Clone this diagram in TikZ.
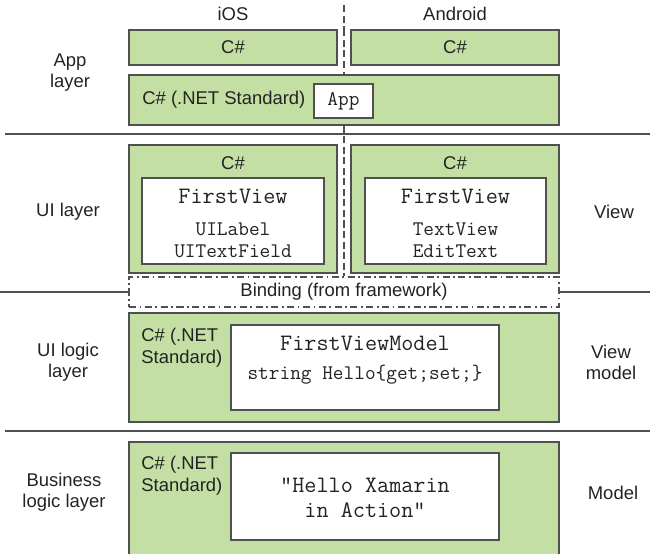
\documentclass[tikz,border=0pt]{standalone}
\usepackage{fontspec}
\setmainfont{Liberation Sans}
\usetikzlibrary{positioning}
\definecolor{layergreen}{RGB}{196, 223, 164}
\definecolor{edgegrey}{RGB}{80, 80, 80}
\definecolor{textgrey}{RGB}{35, 35, 35}

\begin{document}
\begin{tikzpicture}[
    x=0.02cm, y=-0.02cm,
    font=\fontsize{10.5}{12.5}\selectfont,
    text=textgrey,
    % Box styles
    greenbox/.style={
        draw=edgegrey,
        fill=layergreen,
        line width=0.7pt,
        inner sep=0pt
    },
    whitebox/.style={
        draw=edgegrey,
        fill=white,
        line width=0.7pt,
        inner sep=0pt
    },
    bindingbox/.style={
        draw=edgegrey,
        fill=white,
        line width=0.7pt,
        dash pattern=on 4pt off 2pt on 1pt off 2pt,
        inner sep=0pt
    },
    layerlabel/.style={
        align=center,
        font=\fontsize{10.5}{12}\selectfont
    },
    codetitle/.style={
        font=\ttfamily\fontsize{13.4}{15}\selectfont
    },
    codebody/.style={
        align=center,
        font=\ttfamily\fontsize{11.8}{12.6}\selectfont
    },
    separator/.style={
        draw=edgegrey,
        line width=0.9pt
    },
    platformsplit/.style={
        draw=edgegrey,
        line width=0.7pt,
        dash pattern=on 4pt off 2pt
    }
]
    \useasboundingbox (0,0) rectangle (650,554);

    % =========================================================================
    % 1. PLATFORM HEADINGS, SPLIT AND LAYER SEPARATORS
    % =========================================================================
    \node (head_ios) at (233,14) {iOS};
    \node (head_android) at (455,14) {Android};

    \coordinate (split_top) at (344,5);
    \coordinate (sep1_left) at (5,134);
    \coordinate (sep1_right) at (650,134);
    \coordinate (sep2_left) at (5,431);
    \coordinate (sep2_right) at (650,431);
    \coordinate (bind_left) at (0,292);
    \coordinate (bind_right) at (650,292);

    \draw[separator] (sep1_left) -- (sep1_right);
    \draw[separator] (sep2_left) -- (sep2_right);

    % =========================================================================
    % 2. APP LAYER
    % =========================================================================
    \node[layerlabel] (lbl_app) at (70,73) {App\\layer};

    \node[greenbox, minimum width=4.16cm, minimum height=0.70cm] (ios_app) at (233,47.5) {};
    \node (ios_app_cs) at (ios_app) {C\#};
    \node[greenbox, minimum width=4.16cm, minimum height=0.70cm] (android_app) at (455,47.5) {};
    \node (android_app_cs) at (android_app) {C\#};

    \node[greenbox, minimum width=8.60cm, minimum height=1.00cm] (shared_app) at (344,100) {};
    \node[anchor=west, inner sep=0pt] (shared_app_cs) at (142,100) {C\# (.NET Standard)};
    \node[whitebox, minimum width=1.18cm, minimum height=0.68cm, font=\ttfamily\fontsize{11.8}{12.6}\selectfont]
        (app_class) at (343.5,101) {App};

    % =========================================================================
    % 3. UI LAYER
    % =========================================================================
    \node[layerlabel] (lbl_ui) at (68,212) {UI layer};
    \node[layerlabel] (lbl_view) at (614,212) {View};

    \node[greenbox, minimum width=4.16cm, minimum height=2.56cm] (ios_ui) at (233,209) {};
    \node (ios_ui_cs) at (233,163) {C\#};
    \node[whitebox, minimum width=3.64cm, minimum height=1.72cm] (ios_view) at (233,221) {};
    \node[codetitle] (ios_view_name) at (233,196) {FirstView};
    \node[codebody] (ios_view_ctrls) at (233,240) {UILabel\\UITextField};

    \node[greenbox, minimum width=4.16cm, minimum height=2.56cm] (android_ui) at (455,209) {};
    \node (android_ui_cs) at (455,163) {C\#};
    \node[whitebox, minimum width=3.62cm, minimum height=1.72cm] (android_view) at (455.5,221) {};
    \node[codetitle] (android_view_name) at (455.5,196) {FirstView};
    \node[codebody] (android_view_ctrls) at (455.5,240) {TextView\\EditText};

    % =========================================================================
    % 4. BINDING
    % =========================================================================
    \node[bindingbox, minimum width=8.60cm, minimum height=0.60cm] (binding) at (344,292) {Binding (from framework)};
    \draw[separator] (bind_left) -- (binding.west);
    \draw[separator] (binding.east) -- (bind_right);
    \draw[platformsplit] (split_top) -- (split_top |- ios_app.north);
    \draw[platformsplit] (ios_app.north -| split_top) -- (shared_app.north);
    \draw[platformsplit] (shared_app.south) -- (binding.north);

    % =========================================================================
    % 5. UI LOGIC LAYER
    % =========================================================================
    \node[layerlabel] (lbl_logic) at (68,362) {UI logic\\layer};
    \node[layerlabel] (lbl_viewmodel) at (611,362) {View\\model};

    \node[greenbox, minimum width=8.60cm, minimum height=2.18cm] (logic) at (344,367.5) {};
    \node[anchor=west, align=left, inner sep=0pt] (logic_cs) at (141,347.5) {C\# (.NET\\Standard)};
    \node[whitebox, minimum width=5.36cm, minimum height=1.70cm] (viewmodel) at (365,367.5) {};
    \node[codetitle] (viewmodel_name) at (365,343) {FirstViewModel};
    \node[codebody] (viewmodel_prop) at (365,375) {string Hello\{get;set;\}};

    % =========================================================================
    % 6. BUSINESS LOGIC LAYER
    % =========================================================================
    \node[layerlabel] (lbl_business) at (64,492) {Business\\logic layer};
    \node[layerlabel] (lbl_model) at (613,493) {Model};

    \node[greenbox, minimum width=8.60cm, minimum height=2.56cm] (business) at (344,506) {};
    \node[anchor=west, align=left, inner sep=0pt] (business_cs) at (141,476) {C\# (.NET\\Standard)};
    \node[whitebox, minimum width=5.36cm, minimum height=1.74cm] (model) at (365,496.5) {};
    \node[codetitle, align=center, font=\ttfamily\fontsize{13.4}{14.2}\selectfont]
        (model_text) at (365,497.5) {"Hello Xamarin\\in Action"};

\end{tikzpicture}
\end{document}
